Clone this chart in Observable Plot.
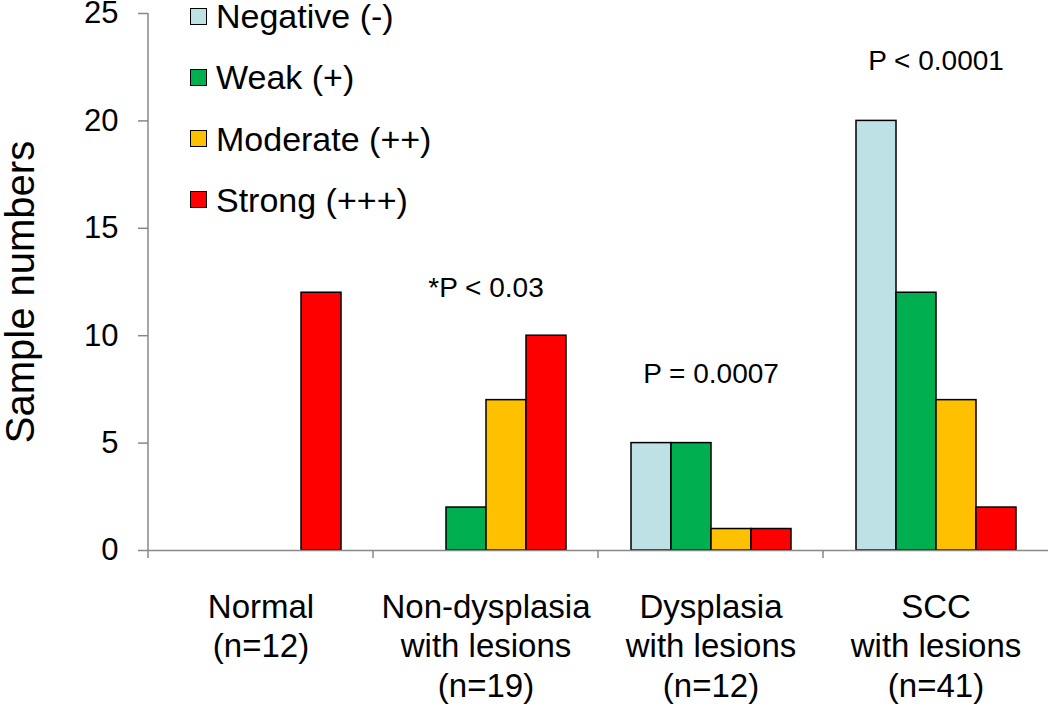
<!DOCTYPE html>
<html><head><meta charset="utf-8">
<script src="https://cdn.jsdelivr.net/npm/d3@7"></script>
<script src="https://cdn.jsdelivr.net/npm/@observablehq/plot@0.6"></script>
<style>
body{margin:0;background:#fff;font-family:"Liberation Sans",Arial,sans-serif;}
#wrap{position:relative;width:1050px;height:709px;}
#legend{position:absolute;left:190px;top:0;}
.row{position:absolute;left:0;display:flex;align-items:center;white-space:nowrap;font-size:34px;line-height:30px;height:30px;color:#000;}
.sw{width:15px;height:15px;border:1.5px solid #000;margin-right:9px;flex:none;}
</style></head><body>
<div id="wrap"><div id="chart"></div><div id="legend"></div></div>
<script>
const groups = ["Normal", "Non-dysplasia", "Dysplasia", "SCC"];
const groupLabels = ["Normal\n(n=12)", "Non-dysplasia\nwith lesions\n(n=19)", "Dysplasia\nwith lesions\n(n=12)", "SCC\nwith lesions\n(n=41)"];
const series = ["Negative (-)", "Weak (+)", "Moderate (++)", "Strong (+++)"];
const colors = ["#BDE1E4", "#00B050", "#FFC000", "#FF0000"];
const negative = [0, 0, 5, 20];
const weak = [0, 2, 5, 12];
const moderate = [0, 7, 1, 7];
const strong = [12, 10, 1, 2];
const pGroups = ["Non-dysplasia", "Dysplasia", "SCC"];
const pLabels = ["*P < 0.03", "P = 0.0007", "P < 0.0001"];
const pY = [12.2, 8.2, 22.8];
const yTicks = [0, 5, 10, 15, 20, 25];
const yLabel = "Sample numbers";

const seriesValues = [negative, weak, moderate, strong];
const bars = [];
groups.forEach((g, gi) => series.forEach((s, si) => bars.push({group: g, series: s, value: seriesValues[si][gi]})));
const labelData = groups.map((g, i) => ({group: g, label: groupLabels[i]}));
const pData = pGroups.map((g, i) => ({group: g, label: pLabels[i], y: pY[i]}));

const axisColor = "#888888";
const plot = Plot.plot({
  width: 1050, height: 709,
  marginLeft: 147, marginRight: 1, marginTop: 13, marginBottom: 159,
  style: {fontFamily: '"Liberation Sans", Arial, sans-serif', fontSize: "32px", background: "#fff", color: "#000", overflow: "visible"},
  fx: {domain: groups, padding: 0, axis: null},
  x: {domain: series, padding: 0, insetLeft: 31, insetRight: 31, axis: null},
  y: {domain: [0, 25]},
  color: {domain: series, range: colors},
  marks: [
    Plot.axisY({ticks: yTicks, tickSize: 10, tickPadding: 20, fontSize: 31, stroke: axisColor, strokeWidth: 1.5, label: null}),
    Plot.barY(bars, {fx: "group", x: "series", y: "value", fill: "series", stroke: "#000", strokeWidth: 1.5, filter: d => d.value > 0}),
    Plot.ruleY([0], {stroke: axisColor, strokeWidth: 1.5}),
    Plot.text(pData, {fx: "group", y: "y", text: "label", fontSize: 28, frameAnchor: "middle"}),
    Plot.text(labelData, {fx: "group", text: "label", frameAnchor: "bottom", lineAnchor: "top", dy: 39, fontSize: 33, lineHeight: 1.2}),
    Plot.text([yLabel], {fx: () => groups[0], text: d => d, frameAnchor: "left", textAnchor: "middle", rotate: -90, fontSize: 40, dx: -115, dy: 10, lineAnchor: "bottom"})
  ]
});
document.getElementById("chart").appendChild(plot);

// y-axis line and group boundary ticks, from the plot's own scales
const fxS = plot.scale("fx"), yS = plot.scale("y");
const y0 = yS.apply(0), yTop = yS.apply(25);
const svg = d3.select(plot);
const x0 = fxS.apply(groups[0]);
svg.append("line").attr("x1", x0).attr("x2", x0).attr("y1", yTop).attr("y2", y0 + 8)
  .attr("stroke", axisColor).attr("stroke-width", 1.5);
groups.slice(1).forEach(g => {
  const xb = fxS.apply(g);
  svg.append("line").attr("x1", xb).attr("x2", xb).attr("y1", y0).attr("y2", y0 + 8)
    .attr("stroke", axisColor).attr("stroke-width", 1.5);
});

// legend
const legend = document.getElementById("legend");
series.forEach((s, i) => {
  const row = document.createElement("div");
  row.className = "row";
  row.style.top = (1 + i * 61.3) + "px";
  const sw = document.createElement("div");
  sw.className = "sw";
  sw.style.background = colors[i];
  const t = document.createElement("span");
  t.textContent = s;
  row.appendChild(sw); row.appendChild(t);
  legend.appendChild(row);
});
</script>
</body></html>
